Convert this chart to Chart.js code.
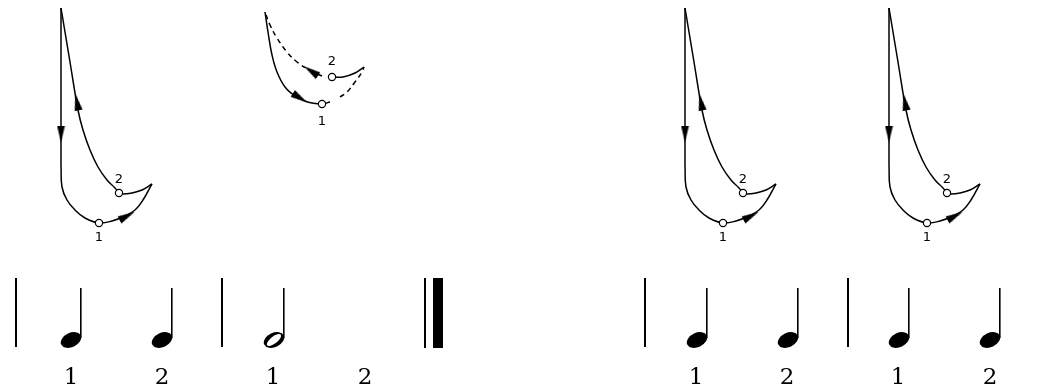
<!DOCTYPE html>
<html>
<head>
<meta charset="utf-8">
<script src="https://cdn.jsdelivr.net/npm/chart.js@4"></script>
<style>
  html, body { margin: 0; padding: 0; background: #fff; }
  #wrap { width: 1044px; height: 391px; }
</style>
</head>
<body>
<div id="wrap"><canvas id="beatChart"></canvas></div>
<script>
// --- two-beat pattern (left figure), repeated at these shifts ---
const patternShift = [0, 624, 828];
const dropX = [61, 61];
const dropY = [8, 165];
const curveX = [61, 62, 67, 75, 85, 99, 112, 125, 135, 143, 152];
const curveY = [165, 187, 200, 210, 218, 223, 221, 216, 210, 200, 184];
const hookX = [152, 142, 132, 123, 119];
const hookY = [184, 190, 193, 194, 193];
const reboundX = [119, 115, 107, 98, 90, 83, 78, 70, 61];
const reboundY = [193, 188, 180, 167, 150, 130, 110, 62, 8];
const beatX = [99, 119];
const beatY = [223, 193];
const beatNames = ['1', '2'];
const beatNameY = [238, 180];
const arrowX = [61, 77, 127];
const arrowY = [134, 102, 216];
const arrowAngle = [180, -11, 62];

// --- small pattern with dashed parts ---
const smallDownX = [265, 268, 272, 277, 285, 295, 305, 312, 322, 330];
const smallDownY = [12, 32, 55, 72, 87, 96, 101, 103, 104, 102];
const smallRiseX = [340, 347, 355, 362, 364];
const smallRiseY = [97, 92, 82, 72, 67];
const smallHookX = [364, 355, 343, 332];
const smallHookY = [67, 73, 77, 77];
const smallBackX = [322, 311, 297, 287, 277, 270, 265];
const smallBackY = [76, 71, 62, 52, 38, 25, 12];
const smallBeatX = [322, 332];
const smallBeatY = [104, 77];
const smallBeatNameY = [122, 62];
const smallArrowX = [300, 311];
const smallArrowY = [98, 71];
const smallArrowAngle = [122, -56];

// --- notation row ---
const noteX = [71, 162, 274, 697, 788, 899, 990];
const noteKind = ['q', 'q', 'h', 'q', 'q', 'q', 'q'];
const barX = [16, 222, 645, 848];
const countX = [71, 162, 273, 365, 696, 787, 898, 990];
const countNames = ['1', '2', '1', '2', '1', '2', '1', '2'];

const ink = '#000';

// pointStyle images
function makeArrow() {
    const c = document.createElement('canvas');
    c.width = 9; c.height = 17;
    const g = c.getContext('2d');
    g.fillStyle = ink;
    g.beginPath();
    g.moveTo(4.5, 0); g.lineTo(8.5, 17); g.lineTo(0.5, 17); g.closePath();
    g.fill();
    return c;
}
function makeHead(hollow) {
    const c = document.createElement('canvas');
    c.width = 26; c.height = 20;
    const g = c.getContext('2d');
    g.fillStyle = ink;
    g.beginPath();
    g.ellipse(13, 10, 10.8, 7.1, -25 * Math.PI / 180, 0, Math.PI * 2);
    g.fill();
    if (hollow) {
        g.globalCompositeOperation = 'destination-out';
        g.beginPath();
        g.ellipse(13, 10, 8.6, 3.4, -38 * Math.PI / 180, 0, Math.PI * 2);
        g.fill();
    }
    return c;
}
const arrowImg = makeArrow();
const quarterImg = makeHead(false);
const halfImg = makeHead(true);

const pts = (xs, ys, dx = 0) => xs.map((x, i) => ({ x: x + dx, y: ys[i] }));

const lineSet = (data, dashed) => ({
    type: 'line', data, borderColor: ink, borderWidth: 1.5, pointRadius: 0,
    tension: 0.4, fill: false, borderDash: dashed ? [5, 4] : [], order: 5
});

let datasets = [];
let textItems = [];

// markers first so they sit on top
patternShift.forEach(dx => {
    datasets.push({
        data: pts(beatX, beatY, dx), pointStyle: 'circle', pointRadius: 3.6,
        pointBackgroundColor: '#fff', pointBorderColor: ink, pointBorderWidth: 1.2, order: 1
    });
    datasets.push({
        data: pts(arrowX, arrowY, dx), pointStyle: arrowImg, pointRotation: arrowAngle, order: 2
    });
    datasets.push(lineSet(pts(dropX, dropY, dx)));
    datasets.push(lineSet(pts(curveX, curveY, dx)));
    datasets.push(lineSet(pts(hookX, hookY, dx)));
    datasets.push(lineSet(pts(reboundX, reboundY, dx)));
    beatX.forEach((x, i) => textItems.push({ x: x + dx, y: beatNameY[i], t: beatNames[i], small: true }));
});

datasets.push({
    data: pts(smallBeatX, smallBeatY), pointStyle: 'circle', pointRadius: 3.6,
    pointBackgroundColor: '#fff', pointBorderColor: ink, pointBorderWidth: 1.2, order: 1
});
datasets.push({
    data: pts(smallArrowX, smallArrowY), pointStyle: arrowImg, pointRotation: smallArrowAngle, order: 2
});
datasets.push(lineSet(pts(smallDownX, smallDownY)));
datasets.push(lineSet(pts(smallRiseX, smallRiseY), true));
datasets.push(lineSet(pts(smallHookX, smallHookY)));
datasets.push(lineSet(pts(smallBackX, smallBackY), true));
smallBeatX.forEach((x, i) => textItems.push({ x, y: smallBeatNameY[i], t: beatNames[i], small: true }));

// note heads and stems
datasets.push({
    data: noteX.map(x => ({ x, y: 340 })),
    pointStyle: noteKind.map(k => k === 'h' ? halfImg : quarterImg), order: 1
});
noteX.forEach(x => {
    datasets.push({
        type: 'line', data: [{ x: x + 9.8, y: 288 }, { x: x + 9.8, y: 338 }],
        borderColor: ink, borderWidth: 1.6, pointRadius: 0, order: 5
    });
});
barX.forEach(x => {
    datasets.push({
        type: 'line', data: [{ x, y: 278 }, { x, y: 347 }],
        borderColor: ink, borderWidth: 2, pointRadius: 0, order: 5
    });
});
// final double bar
datasets.push({
    type: 'line', data: [{ x: 425, y: 278 }, { x: 425, y: 348 }],
    borderColor: ink, borderWidth: 2, pointRadius: 0, order: 5
});
datasets.push({
    type: 'line', data: [{ x: 438, y: 278 }, { x: 438, y: 348 }],
    borderColor: ink, borderWidth: 10, borderCapStyle: 'butt', pointRadius: 0, order: 5
});
countX.forEach((x, i) => textItems.push({ x, y: 378, t: countNames[i], small: false }));

// text labels placed through the scales
const labelPlugin = {
    id: 'labels',
    afterDatasetsDraw(chart) {
        const { ctx, scales } = chart;
        ctx.save();
        ctx.fillStyle = ink;
        ctx.textAlign = 'center';
        ctx.textBaseline = 'middle';
        textItems.forEach(item => {
            ctx.font = item.small ? '13px "DejaVu Sans"' : '23px "DejaVu Serif"';
            ctx.fillText(item.t, scales.x.getPixelForValue(item.x), scales.y.getPixelForValue(item.y));
        });
        ctx.restore();
    }
};

new Chart(document.getElementById('beatChart'), {
    type: 'scatter',
    data: { datasets },
    options: {
        responsive: true,
        maintainAspectRatio: false,
        animation: false,
        layout: { padding: 0, autoPadding: false },
        plugins: { legend: { display: false }, tooltip: { enabled: false } },
        scales: {
            x: { type: 'linear', min: 0, max: 1044, display: false },
            y: { type: 'linear', min: 0, max: 391, reverse: true, display: false }
        }
    },
    plugins: [labelPlugin]
});
</script>
</body>
</html>
